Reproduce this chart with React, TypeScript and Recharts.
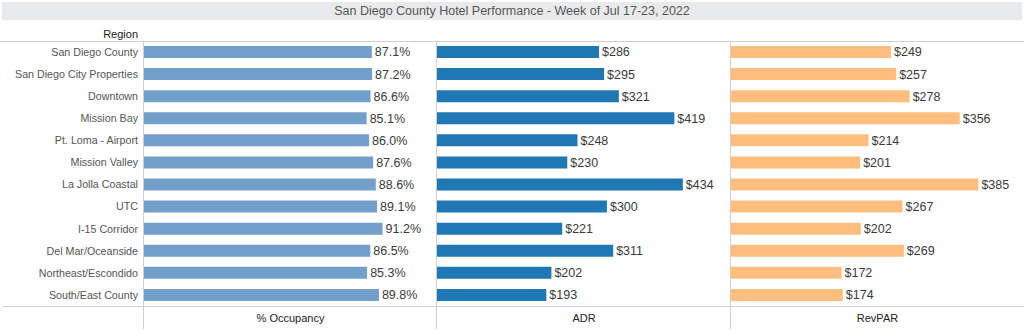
import React from 'react';
import { BarChart, Bar, XAxis, YAxis, LabelList } from 'recharts';

const regions = [
  'San Diego County',
  'San Diego City Properties',
  'Downtown',
  'Mission Bay',
  'Pt. Loma - Airport',
  'Mission Valley',
  'La Jolla Coastal',
  'UTC',
  'I-15 Corridor',
  'Del Mar/Oceanside',
  'Northeast/Escondido',
  'South/East County',
];
const occupancy = [87.1, 87.2, 86.6, 85.1, 86.0, 87.6, 88.6, 89.1, 91.2, 86.5, 85.3, 89.8];
const adr = [286, 295, 321, 419, 248, 230, 434, 300, 221, 311, 202, 193];
const revpar = [249, 257, 278, 356, 214, 201, 385, 267, 202, 269, 172, 174];
const panelTitles = ['% Occupancy', 'ADR', 'RevPAR'];
const title = 'San Diego County Hotel Performance - Week of Jul 17-23, 2022';

const data = regions.map((region, i) => ({
  region,
  occ: occupancy[i],
  adr: adr[i],
  revpar: revpar[i],
}));

const FONT = 'Arial, "Liberation Sans", sans-serif';
const TOP = 41;
const PLOT_H = 265;
const LINE = '#cfcfcf';

const abs = (s: React.CSSProperties): React.CSSProperties => ({ position: 'absolute', ...s });

const RegionTick = (props: any) => {
  const { x, y, payload } = props;
  return (
    <text x={x} y={y} dy="0.355em" textAnchor="end" fontSize={10.7} fill="#555" fontFamily={FONT}>
      {payload.value}
    </text>
  );
};

export default function App() {
  const labelStyle = { fontSize: 12.5, fill: '#3a3a3a', fontFamily: FONT };
  return (
    <div style={{ position: 'absolute', left: 0, top: 0, width: 1024, height: 331, background: '#fff', fontFamily: FONT, overflow: 'hidden' }}>
      <div style={abs({ left: 2, top: 2, width: 1020, height: 18, background: '#e9eaec', color: '#555', fontSize: 12.5, lineHeight: '18px', textAlign: 'center' })}>
        {title}
      </div>
      <div style={abs({ left: 0, top: 28, width: 138, textAlign: 'right', fontSize: 11, color: '#222', lineHeight: '13px' })}>Region</div>
      <div style={abs({ left: 0, top: TOP, width: 1024, height: 1, background: LINE })} />
      <div style={abs({ left: 3, top: TOP + PLOT_H, width: 1021, height: 1, background: LINE })} />
      {[144, 437, 731].map((x) => (
        <div key={x} style={abs({ left: x - 1, top: TOP, width: 1, height: 288, background: LINE })} />
      ))}
      {[[144, 437], [437, 731], [731, 1024]].map(([a, b], i) => (
        <div key={i} style={abs({ left: a, top: 312, width: b - a, textAlign: 'center', fontSize: 11, color: '#222', lineHeight: '13px' })}>
          {panelTitles[i]}
        </div>
      ))}

      <div style={abs({ left: 0, top: TOP })}>
        <BarChart width={437} height={PLOT_H} data={data} layout="vertical" margin={{ top: 0, right: 0, bottom: 0, left: 0 }}>
          <XAxis type="number" hide domain={[0, 112]} />
          <YAxis
            type="category"
            dataKey="region"
            width={144}
            axisLine={false}
            tickLine={false}
            tickSize={6}
            tickMargin={0}
            interval={0}
            tick={<RegionTick />}
          />
          <Bar dataKey="occ" fill="#72a0cb" barSize={12} isAnimationActive={false}>
            <LabelList dataKey="occ" position="right" offset={3} style={labelStyle} formatter={(v: any) => `${Number(v).toFixed(1)}%`} />
          </Bar>
        </BarChart>
      </div>

      <div style={abs({ left: 437, top: TOP })}>
        <BarChart width={294} height={PLOT_H} data={data} layout="vertical" margin={{ top: 0, right: 0, bottom: 0, left: 0 }}>
          <XAxis type="number" hide domain={[0, 519]} />
          <YAxis type="category" dataKey="region" hide />
          <Bar dataKey="adr" fill="#1f77b4" barSize={12} isAnimationActive={false}>
            <LabelList dataKey="adr" position="right" offset={3} style={labelStyle} formatter={(v: any) => `$${v}`} />
          </Bar>
        </BarChart>
      </div>

      <div style={abs({ left: 731, top: TOP })}>
        <BarChart width={293} height={PLOT_H} data={data} layout="vertical" margin={{ top: 0, right: 0, bottom: 0, left: 0 }}>
          <XAxis type="number" hide domain={[0, 456]} />
          <YAxis type="category" dataKey="region" hide />
          <Bar dataKey="revpar" fill="#ffbe7d" barSize={12} isAnimationActive={false}>
            <LabelList dataKey="revpar" position="right" offset={3} style={labelStyle} formatter={(v: any) => `$${v}`} />
          </Bar>
        </BarChart>
      </div>
    </div>
  );
}
